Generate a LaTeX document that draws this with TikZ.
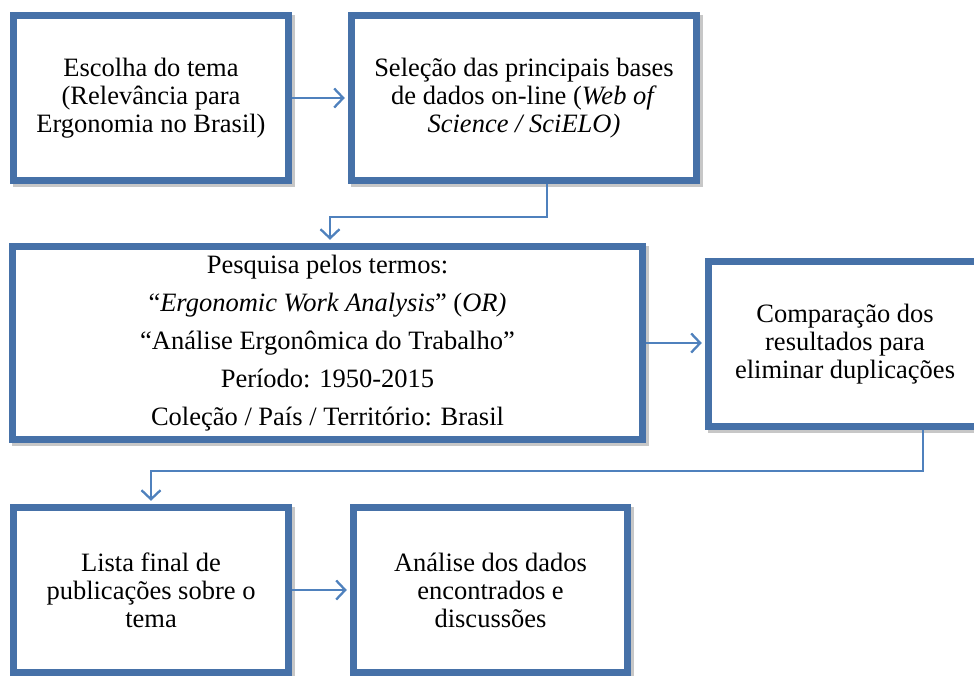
\documentclass[tikz,border=0pt]{standalone}
\usepackage{fontspec}
\setmainfont{Liberation Serif}
\usetikzlibrary{arrows.meta,shadows}
\definecolor{boxblue}{RGB}{70,113,168}
\definecolor{lineblue}{RGB}{79,129,189}
\tikzset{
  stepbox/.style={draw=boxblue, line width=7pt, fill=white, align=center,
    inner sep=0pt, font=\fontsize{26.5pt}{28pt}\selectfont,
    drop shadow={shadow xshift=2.5pt, shadow yshift=-3pt, fill=black, draw=black,
      line width=7pt, opacity=0.22}},
  conn/.style={draw=lineblue, line width=2.3pt,
    -{Straight Barb[length=9pt,width=19pt,line width=2.3pt]}, shorten >=3.2pt}
}
\begin{document}
\begin{tikzpicture}[x=1pt,y=-1pt]
\useasboundingbox (0,0) rectangle (974,675);
\clip (0,0) rectangle (974,675);
\node[stepbox, minimum width=275pt, minimum height=165pt] (b1) at (151,98)
  {Escolha do tema\\(Relevância para\\Ergonomia no Brasil)};
\node[stepbox, minimum width=345pt, minimum height=165pt] (b2) at (524,98)
  {Seleção das principais bases\\de dados on-line (\textit{Web of}\\\textit{Science / SciELO)}};
\node[stepbox, minimum width=630pt, minimum height=193pt,
  font=\fontsize{26.5pt}{38pt}\selectfont] (b3) at (327.5,343)
  {Pesquisa pelos termos:\\“\textit{Ergonomic Work Analysis}” (\textit{OR)}\\“Análise Ergonômica do Trabalho”\\Período: 1950-2015\\Coleção / País / Território: Brasil};
\node[stepbox, minimum width=273pt, minimum height=165pt] (b4) at (845,344)
  {Comparação dos\\resultados para\\eliminar duplicações};
\node[stepbox, minimum width=275pt, minimum height=165pt] (b5) at (151,590)
  {Lista final de\\publicações sobre o\\tema};
\node[stepbox, minimum width=274pt, minimum height=165pt] (b6) at (490.5,590)
  {Análise dos dados\\encontrados e\\discussões};
\coordinate (k1) at (547,217);
\coordinate (k2) at (330,217);
\coordinate (k3) at (923,471);
\coordinate (k4) at (151,471);
\draw[conn] (b1.east) -- (b1.east -| b2.west);
\draw[conn] (b2.south -| k1) -- (k1) -- (k2) -- (b3.north -| k2);
\draw[conn] (b3.east) -- (b3.east -| b4.west);
\draw[conn] (b4.south -| k3) -- (k3) -- (k4) -- (b5.north);
\draw[conn] (b5.east) -- (b5.east -| b6.west);
\end{tikzpicture}
\end{document}
